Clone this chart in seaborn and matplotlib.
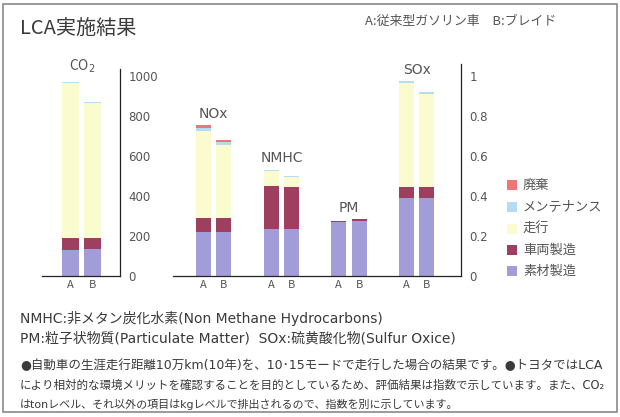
import numpy as np
import pandas as pd
import matplotlib
matplotlib.use("Agg")
import matplotlib.pyplot as plt
import seaborn as sns
from matplotlib.patches import Rectangle

sns.set_style("white")
plt.rcParams['font.family'] = ['Noto Sans CJK JP', 'DejaVu Sans']

# ---------------- data ----------------
components = ["素材製造", "車両製造", "走行", "メンテナンス", "廃棄"]
comp_colors = ["#a29dd8", "#9e3f5f", "#fafbcf", "#b6dcf4", "#ef7676"]
cars = ["A", "B"]

co2_label = "CO$_2$"
co2_A = [128, 62, 774, 5, 0]
co2_B = [133, 57, 673, 5, 0]

groups = ["NOx", "NMHC", "PM", "SOx"]
nox_A = [0.222, 0.070, 0.433, 0.017, 0.012]
nox_B = [0.222, 0.070, 0.364, 0.012, 0.012]
nmhc_A = [0.237, 0.214, 0.075, 0.006, 0.0]
nmhc_B = [0.235, 0.209, 0.051, 0.006, 0.0]
pm_A = [0.269, 0.008, 0.0, 0.0, 0.0]
pm_B = [0.277, 0.007, 0.0, 0.0, 0.0]
sox_A = [0.389, 0.058, 0.520, 0.008, 0.0]
sox_B = [0.389, 0.058, 0.463, 0.008, 0.0]

co2_ticks = [0, 200, 400, 600, 800, 1000]
other_ticks = [0, 0.2, 0.4, 0.6, 0.8, 1]
other_ticklabels = ["0", "0.2", "0.4", "0.6", "0.8", "1"]

title = "LCA実施結果"
header = "A:従来型ガソリン車　B:ブレイド"
note1 = "NMHC:非メタン炭化水素(Non Methane Hydrocarbons)"
note2 = "PM:粒子状物質(Particulate Matter)  SOx:硫黄酸化物(Sulfur Oxice)"
para = ["●自動車の生涯走行距離10万km(10年)を、10･15モードで走行した場合の結果です。●トヨタではLCA",
        "により相対的な環境メリットを確認することを目的としているため、評価結果は指数で示しています。また、CO₂",
        "はtonレベル、それ以外の項目はkgレベルで排出されるので、指数を別に示しています。"]
para_sizes = [9.0, 8.3, 7.95]

# ---------------- layout ----------------
W, H = 620, 417
fig = plt.figure(figsize=(W / 100, H / 100), dpi=100)
fig.patch.set_facecolor("white")
txt_col = "#3a3a3a"
lat_fam = ['DejaVu Sans', 'Noto Sans CJK JP']

def px_axes(x0, x1, ytop, ybot):
    return fig.add_axes([x0 / W, 1 - ybot / H, (x1 - x0) / W, (ybot - ytop) / H])

ax1 = px_axes(42, 120, 69, 276)
ax2 = px_axes(172.7, 461, 64, 276)

group_step = 3.3

def build(values_by_bar, positions):
    rows = []
    for (vals, pos, lab) in zip(values_by_bar, positions, [c for c in cars] * len(values_by_bar)):
        cum = np.cumsum(vals)
        for i, comp in enumerate(components):
            rows.append(dict(pos=pos, comp=comp, cum=cum[i], lab=lab))
    return pd.DataFrame(rows)

df1 = build([co2_A, co2_B], [0.0, 1.0])
pos2 = []
vals2 = []
for g, (a, b) in enumerate([(nox_A, nox_B), (nmhc_A, nmhc_B), (pm_A, pm_B), (sox_A, sox_B)]):
    pos2 += [g * group_step, g * group_step + 1]
    vals2 += [a, b]
df2 = build(vals2, pos2)

def draw(ax, df, width):
    for comp, col in list(zip(components, comp_colors))[::-1]:
        sub = df[df.comp == comp]
        sns.barplot(data=sub, x="pos", y="cum", color=col, native_scale=True,
                    width=width, ax=ax, saturation=1, errorbar=None, linewidth=0)

draw(ax1, df1, 0.77)
draw(ax2, df2, 0.73)

for ax in (ax1, ax2):
    ax.set_xlabel("")
    ax.set_ylabel("")
    for s in ("top", "left"):
        ax.spines[s].set_visible(False)
    ax.spines["right"].set_visible(True)
    ax.spines["right"].set_color("#222222")
    ax.spines["bottom"].set_color("#222222")
    ax.spines["right"].set_linewidth(0.9)
    ax.spines["bottom"].set_linewidth(0.9)
    ax.yaxis.tick_right()
    ax.tick_params(axis="y", length=0, pad=6, labelsize=8.5, labelcolor="#555555")
    ax.tick_params(axis="x", length=0, pad=3, labelsize=8, labelcolor="#555555")
    ax.set_facecolor("none")

ax1.set_xlim(-1.29, 2.22)
ax1.set_ylim(0, 1035)
ax1.set_yticks(co2_ticks)
ax1.set_yticklabels([str(t) for t in co2_ticks])
ax1.set_xticks([0, 1])
ax1.set_xticklabels(cars)

ax2.set_xlim(-1.5, 12.56)
ax2.set_ylim(0, 1.06)
ax2.set_yticks(other_ticks)
ax2.set_yticklabels(other_ticklabels)
ax2.set_xticks(pos2)
ax2.set_xticklabels(cars * len(groups))

for t in ax1.get_yticklabels() + ax2.get_yticklabels():
    t.set_ha("left")
    t.set_family(lat_fam)

# group labels
ax1.annotate(co2_label, (0.5, sum(co2_A)), xytext=(0, 5), textcoords="offset points",
             ha="center", va="bottom", fontsize=10, color="#555555")
for g, name in enumerate(groups):
    top = max(np.sum(vals2[2 * g]), np.sum(vals2[2 * g + 1]))
    ax2.annotate(name, (g * group_step + 0.5, top), xytext=(0, 3), textcoords="offset points",
                 ha="center", va="bottom", fontsize=10, color="#555555", family=lat_fam)

# legend (top: 廃棄 ... bottom: 素材製造)
leg_y = [271, 250, 229, 207, 185]
for comp, col, y in zip(components, comp_colors, leg_y):
    fig.patches.append(Rectangle((507 / W, 1 - (y + 5) / H), 10 / W, 10 / H,
                                 transform=fig.transFigure, facecolor=col, edgecolor="none"))
    fig.text(523 / W, 1 - y / H, comp, fontsize=9.5, color="#555555", va="center", ha="left")

# texts
fig.text(20 / W, 1 - 28 / H, title, fontsize=14.5, color=txt_col, va="center", ha="left")
fig.text(365 / W, 1 - 21 / H, header, fontsize=9.3, color="#555555", va="center", ha="left")
fig.text(20 / W, 1 - 318 / H, note1, fontsize=10.0, color=txt_col, va="center", ha="left", family=lat_fam)
fig.text(20 / W, 1 - 338 / H, note2, fontsize=10.0, color=txt_col, va="center", ha="left", family=lat_fam)
for i, (line, fs) in enumerate(zip(para, para_sizes)):
    fig.text(20 / W, 1 - (366 + 19 * i) / H, line, fontsize=fs, color=txt_col,
             va="center", ha="left", family=lat_fam)

# frame
fig.patches.append(Rectangle((3 / W, 1 - 412 / H), 614 / W, 408 / H, transform=fig.transFigure,
                             facecolor="none", edgecolor="#8a8a8a", linewidth=1.2))

fig.savefig("out.png", dpi=100, facecolor="white")
